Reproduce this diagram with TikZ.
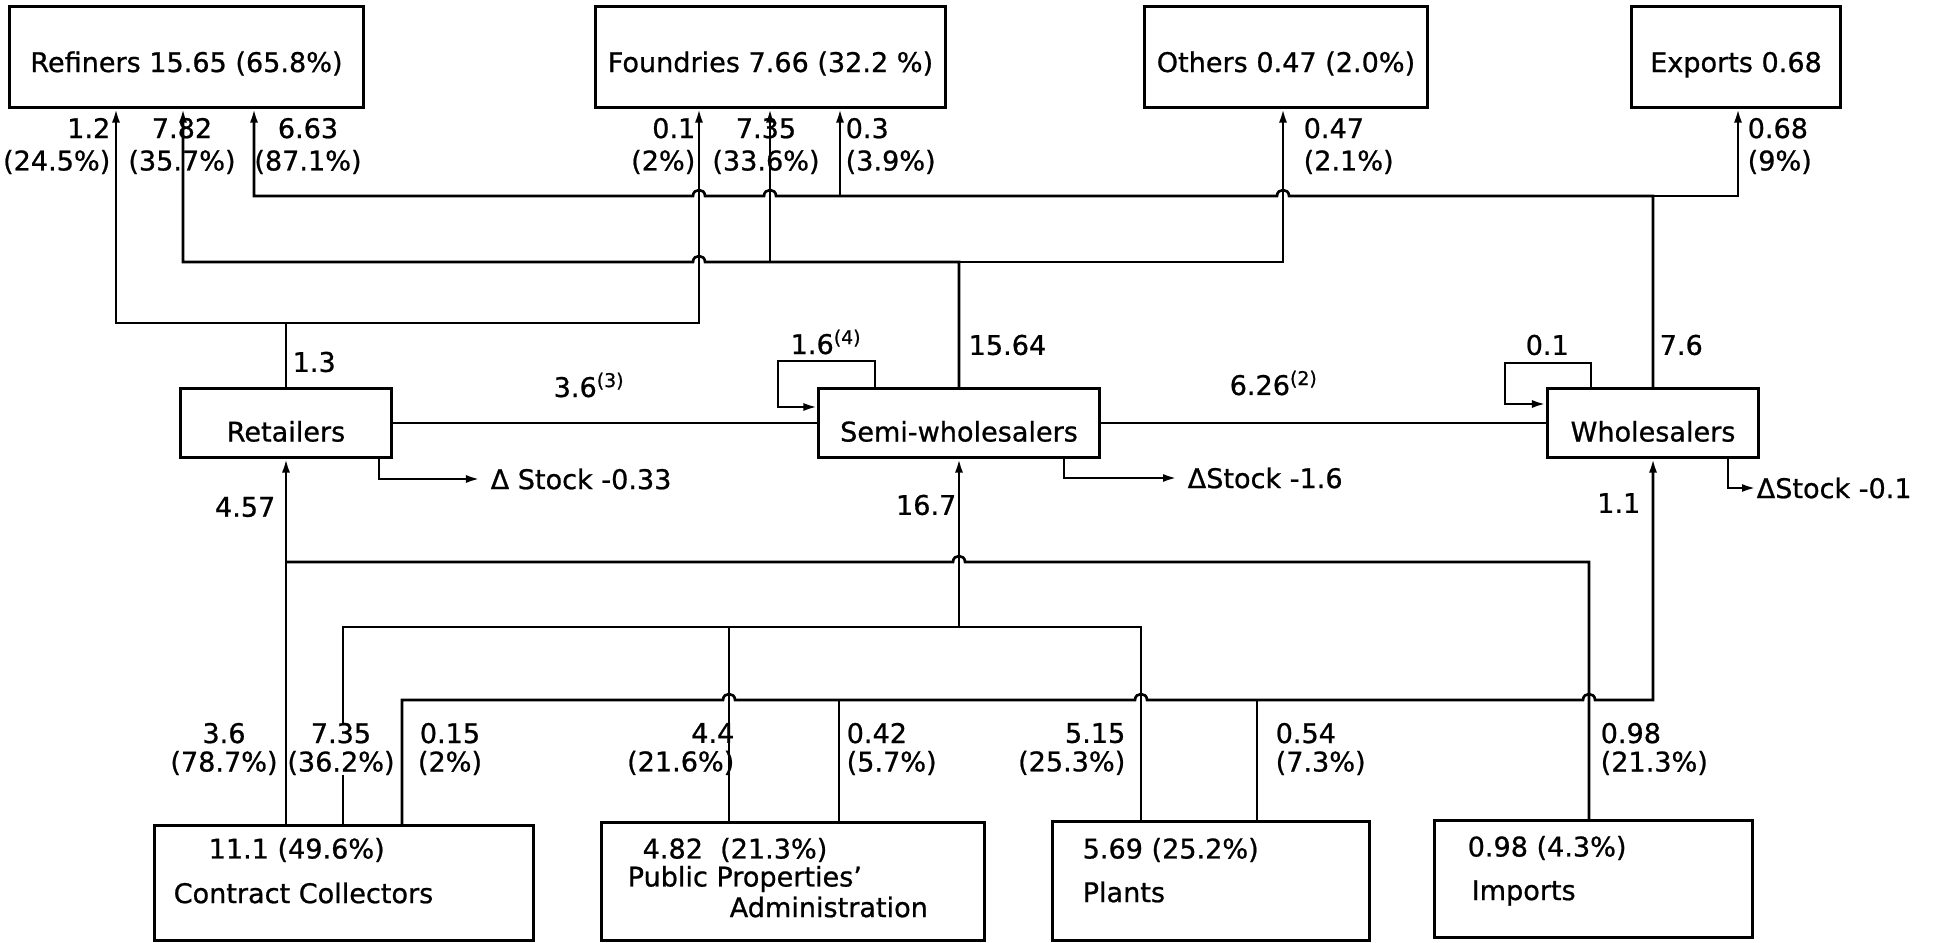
\documentclass[tikz,border=0pt]{standalone}
\usepackage{fontspec}
\setmainfont{DejaVu Sans}[FakeBold=0.8]
\usepackage{tikz}
\usetikzlibrary{arrows.meta,calc}

\begin{document}
\begin{tikzpicture}[
    x=0.01cm, y=-0.01cm,
    txt/.style={font=\fontsize{7.7pt}{9.2pt}\selectfont, inner sep=0pt},
    tagtop/.style={txt},
    tagbot/.style={txt, font=\fontsize{7.7pt}{8.1pt}\selectfont},
    box/.style={draw, line width=0.85pt, inner sep=0pt, txt},
    topbox/.style={box, minimum height=1cm, text height=0.3cm, text depth=0pt},
    midbox/.style={box, minimum height=0.68cm, text height=0.37cm, text depth=0pt},
    flow/.style={line width=0.75pt},
    arrow/.style={flow, -{Latex[length=1.4mm, width=0.8mm]}},
]
\useasboundingbox (0,0) rectangle (1943,943);

% Users
\node[topbox, minimum width=3.53cm] (ref) at (186.5,57) {Refiners 15.65 (65.8\%)};
\node[topbox, minimum width=3.49cm] (fou) at (770.5,57) {Foundries 7.66 (32.2 \%)};
\node[topbox, minimum width=2.82cm] (oth) at (1286,57) {Others 0.47 (2.0\%)};
\node[topbox, minimum width=2.08cm] (exp) at (1736,57) {Exports 0.68};

% Traders
\node[midbox, minimum width=2.10cm] (ret) at (286,423) {Retailers};
\node[midbox, minimum width=2.80cm] (semi) at (959,423) {Semi-wholesalers};
\node[midbox, minimum width=2.11cm] (whs) at (1653,423) {Wholesalers};

% Sources
\node[box, minimum width=3.78cm, minimum height=1.14cm] (cc) at (344,883) {};
\node[box, minimum width=3.82cm, minimum height=1.17cm] (ppa) at (793,881.5) {};
\node[box, minimum width=3.16cm, minimum height=1.18cm] (pla) at (1211,881) {};
\node[box, minimum width=3.17cm, minimum height=1.16cm] (imp) at (1593.5,879) {};

\node[txt, anchor=west] (cc_val) at (208,850) {11.1 (49.6\%)};
\node[txt, anchor=west] (cc_name) at (173,893) {Contract Collectors};
\node[txt, anchor=west] (ppa_val) at (642,850) {4.82\ \ (21.3\%)};
\node[txt, anchor=west] (ppa_name) at (627,879) {Public Properties'};
\node[txt, anchor=west] (ppa_name2) at (729,907) {Administration};
\node[txt, anchor=west] (pla_val) at (1082,850) {5.69 (25.2\%)};
\node[txt, anchor=west] (pla_name) at (1082,892) {Plants};
\node[txt, anchor=west] (imp_val) at (1467,848) {0.98 (4.3\%)};
\node[txt, anchor=west] (imp_name) at (1471,893) {Imports};

% Wholesalers to users
\coordinate (a_whs) at (1653,196);
\coordinate (a_exp) at (1738,196);
\coordinate (a_fou) at (840,196);
\coordinate (a_ref) at (254,196);
\coordinate (hop_a1) at (1283,196);
\coordinate (hop_a2) at (770,196);
\coordinate (hop_a3) at (699,196);
\draw[arrow] (whs.north) -- (a_whs)
    -- ($(hop_a1)+(6,0)$) .. controls +(0,-8) and +(0,-8) .. ($(hop_a1)-(6,0)$)
    -- ($(hop_a2)+(6,0)$) .. controls +(0,-8) and +(0,-8) .. ($(hop_a2)-(6,0)$)
    -- ($(hop_a3)+(6,0)$) .. controls +(0,-8) and +(0,-8) .. ($(hop_a3)-(6,0)$)
    -- (a_ref) -- (a_ref |- ref.south);
\draw[arrow] (a_fou) -- (a_fou |- fou.south);
\draw[arrow] (a_whs) -- (a_exp) -- (a_exp |- exp.south);

% Semi-wholesalers to users
\coordinate (b_semi) at (959,262);
\coordinate (b_fou) at (770,262);
\coordinate (b_ref) at (183,262);
\coordinate (b_oth) at (1283,262);
\coordinate (hop_b1) at (699,262);
\draw[arrow] (semi.north) -- (b_semi) -- (b_fou)
    -- ($(hop_b1)+(6,0)$) .. controls +(0,-8) and +(0,-8) .. ($(hop_b1)-(6,0)$)
    -- (b_ref) -- (b_ref |- ref.south);
\draw[arrow] (b_fou) -- (b_fou |- fou.south);
\draw[arrow] (b_semi) -- (b_oth) -- (b_oth |- oth.south);

% Retailers to users
\coordinate (c_ret) at (286,323);
\coordinate (c_ref) at (116,323);
\coordinate (c_fou) at (699,323);
\draw[arrow] (ret.north) -- (c_ret) -- (c_ref) -- (c_ref |- ref.south);
\draw[arrow] (c_ret) -- (c_fou) -- (c_fou |- fou.south);

% Trade between traders
\draw[flow] (ret.east) -- (semi.west);
\draw[flow] (semi.east) -- (whs.west);
\coordinate (loop_s1) at (875,361);
\coordinate (loop_s2) at (778,407);
\draw[arrow] (loop_s1 |- semi.north) -- (loop_s1) -| (loop_s2) -- (loop_s2 -| semi.west);
\coordinate (loop_w1) at (1591,363);
\coordinate (loop_w2) at (1505,404);
\draw[arrow] (loop_w1 |- whs.north) -- (loop_w1) -| (loop_w2) -- (loop_w2 -| whs.west);

% Stock changes
\node[txt, anchor=west] (ret_stk) at (490,479) {Δ Stock -0.33};
\node[txt, anchor=west] (semi_stk) at (1187,478) {ΔStock -1.6};
\node[txt, anchor=west] (whs_stk) at (1756,488) {ΔStock -0.1};
\coordinate (stk_r) at (379,0);
\coordinate (stk_s) at (1064,0);
\coordinate (stk_w) at (1728,0);
\draw[arrow, shorten >=0.1cm] (stk_r |- ret.south) |- (ret_stk.west);
\draw[arrow, shorten >=0.1cm] (stk_s |- semi.south) |- (semi_stk.west);
\draw[arrow] (stk_w |- whs.south) |- (whs_stk.west);

% Sources to traders
\draw[arrow] (ret.south |- cc.north) -- (ret.south);
\coordinate (d_ret) at (286,562);
\coordinate (d_imp) at (1589,562);
\coordinate (hop_d1) at (959,562);
\draw[flow] (d_ret) -- ($(hop_d1)-(6,0)$) .. controls +(0,-8) and +(0,-8) .. ($(hop_d1)+(6,0)$)
    -- (d_imp) -- (d_imp |- imp.north);

\coordinate (e_cc) at (343,627);
\coordinate (e_ppa) at (729,627);
\coordinate (e_semi) at (959,627);
\coordinate (e_pla) at (1141,627);
\draw[flow] (e_cc |- cc.north) -- (e_cc) -- (e_pla) -- (e_pla |- pla.north);
\draw[flow] (e_ppa) -- (e_ppa |- ppa.north);
\draw[arrow] (e_semi) -- (e_semi |- semi.south);

\coordinate (f_cc) at (402,700);
\coordinate (f_ppa) at (839,700);
\coordinate (f_pla) at (1257,700);
\coordinate (f_whs) at (1653,700);
\coordinate (hop_f1) at (729,700);
\coordinate (hop_f2) at (1141,700);
\coordinate (hop_f3) at (1589,700);
\draw[arrow] (f_cc |- cc.north) -- (f_cc)
    -- ($(hop_f1)-(6,0)$) .. controls +(0,-8) and +(0,-8) .. ($(hop_f1)+(6,0)$)
    -- ($(hop_f2)-(6,0)$) .. controls +(0,-8) and +(0,-8) .. ($(hop_f2)+(6,0)$)
    -- ($(hop_f3)-(6,0)$) .. controls +(0,-8) and +(0,-8) .. ($(hop_f3)+(6,0)$)
    -- (f_whs) -- (f_whs |- whs.south);
\draw[flow] (f_ppa |- ppa.north) -- (f_ppa);
\draw[flow] (f_pla |- pla.north) -- (f_pla);

% Flow labels, top
\node[tagtop, anchor=east, align=right] (l_ref1) at (111,146) {1.2\\(24.5\%)};
\node[tagtop, align=center] (l_ref2) at (182,146) {7.82\\(35.7\%)};
\node[tagtop, align=center] (l_ref3) at (308,146) {6.63\\(87.1\%)};
\node[tagtop, anchor=east, align=right] (l_fou1) at (696,146) {0.1\\(2\%)};
\node[tagtop, align=center] (l_fou2) at (766,146) {7.35\\(33.6\%)};
\node[tagtop, anchor=west, align=left] (l_fou3) at (845,146) {0.3\\(3.9\%)};
\node[tagtop, anchor=west, align=left] (l_oth) at (1303,146) {0.47\\(2.1\%)};
\node[tagtop, anchor=west, align=left] (l_exp) at (1747,146) {0.68\\(9\%)};

% Flow labels, middle
\node[txt, anchor=west] (l_ret_out) at (292,362) {1.3};
\node[txt, anchor=base west] (l_ret_semi) at (553,397) {3.6\textsuperscript{(3)}};
\node[txt, anchor=base west] (l_semi_loop) at (790,354) {1.6\textsuperscript{(4)}};
\node[txt, anchor=west] (l_semi_out) at (968,345) {15.64};
\node[txt, anchor=base west] (l_semi_whs) at (1229,395) {6.26\textsuperscript{(2)}};
\node[txt, anchor=west] (l_whs_loop) at (1525,345) {0.1};
\node[txt, anchor=west] (l_whs_out) at (1659,345) {7.6};
\node[txt, anchor=east] (l_ret_in) at (276,507) {4.57};
\node[txt, anchor=east] (l_semi_in) at (957,505) {16.7};
\node[txt, anchor=east] (l_whs_in) at (1641,503) {1.1};

% Flow labels, bottom
\node[tagbot, align=center] (l_cc1) at (224,749) {3.6\\(78.7\%)};
\node[tagbot, align=center, fill=white] (l_cc2) at (341,749) {7.35\\(36.2\%)};
\node[tagbot, align=center] (l_cc3) at (450,749) {0.15\\(2\%)};
\node[tagbot, anchor=east, align=right] (l_ppa1) at (735,749) {4.4\\(21.6\%)};
\node[tagbot, anchor=west, align=left] (l_ppa2) at (846,749) {0.42\\(5.7\%)};
\node[tagbot, anchor=east, align=right] (l_pla1) at (1126,749) {5.15\\(25.3\%)};
\node[tagbot, anchor=west, align=left] (l_pla2) at (1275,749) {0.54\\(7.3\%)};
\node[tagbot, anchor=west, align=left] (l_imp) at (1600,749) {0.98\\(21.3\%)};

\end{tikzpicture}
\end{document}
